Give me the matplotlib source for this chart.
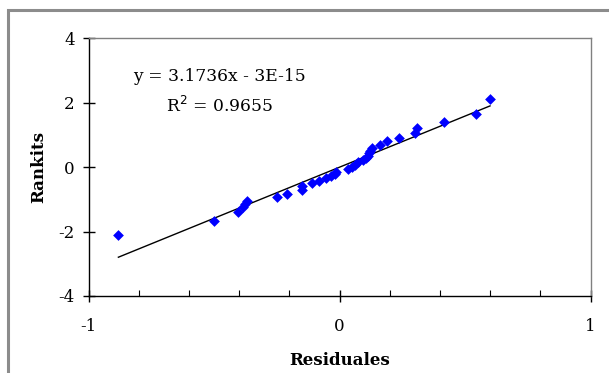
import numpy as np
import matplotlib.pyplot as plt
from matplotlib.patches import Rectangle
from matplotlib.ticker import MultipleLocator

# residuals vs rankits (normal probability plot)
residuales = [-0.881, -0.499, -0.403, -0.385, -0.375, -0.367, -0.248, -0.209,
              -0.151, -0.151, -0.111, -0.081, -0.053, -0.033, -0.020, -0.013,
              0.035, 0.050, 0.063, 0.073, 0.094, 0.105, 0.112, 0.117, 0.121,
              0.128, 0.162, 0.190, 0.237, 0.302, 0.310, 0.415, 0.544, 0.599]
rankits = [-2.12, -1.66, -1.38, -1.25, -1.15, -1.04, -0.92, -0.82,
           -0.70, -0.60, -0.50, -0.42, -0.35, -0.28, -0.22, -0.15,
           -0.07, 0.00, 0.07, 0.15, 0.22, 0.29, 0.36, 0.43, 0.50,
           0.60, 0.70, 0.82, 0.92, 1.05, 1.20, 1.39, 1.66, 2.12]

# trend line as printed on the chart
slope = 3.1736
intercept = -3e-15
eq_text = "y = 3.1736x - 3E-15"
r2_text = "R$^2$ = 0.9655"

plt.rcParams["font.family"] = "DejaVu Serif"
plt.rcParams["axes.unicode_minus"] = False

fig = plt.figure(figsize=(6.09, 3.73), dpi=100)
W, H = 609, 373

# grey outer frame of the chart object (cut off at right and bottom)
fig.patches.append(Rectangle((7.5 / W, -0.1), 1.5, 1.1 - 10.5 / H,
                             transform=fig.transFigure, fill=False,
                             edgecolor="#8c8c8c", linewidth=2.2))

ax = fig.add_axes([88.5 / W, 1 - 296 / H, (590.7 - 88.5) / W, (296 - 38.3) / H])

ax.scatter(residuales, rankits, marker="D", s=30, color="#0000ff", zorder=3, linewidths=0)

xs = np.array([min(residuales), max(residuales)])
ax.plot(xs, slope * xs + intercept, color="black", linewidth=1.0, zorder=2)

ax.set_xlim(-1, 1)
ax.set_ylim(-4, 4)
ax.xaxis.set_major_locator(MultipleLocator(1))
ax.xaxis.set_minor_locator(MultipleLocator(0.2))
ax.yaxis.set_major_locator(MultipleLocator(2))

ax.tick_params(axis="both", which="major", direction="inout", length=8, width=1,
               labelsize=12, color="black")
ax.tick_params(axis="x", which="minor", direction="in", length=4, width=0.8)
ax.tick_params(axis="x", which="major", pad=12)
ax.tick_params(axis="y", which="major", pad=6)

for s in ["top", "right"]:
    ax.spines[s].set_color("#808080")
    ax.spines[s].set_linewidth(1.0)
for s in ["left", "bottom"]:
    ax.spines[s].set_color("black")
    ax.spines[s].set_linewidth(1.0)

ax.set_xlabel("Residuales", fontsize=12, fontweight="bold", labelpad=12)
ax.set_ylabel("Rankits", fontsize=12, fontweight="bold", labelpad=8)

ax.text(-0.48, 2.8, eq_text, fontsize=12.3, ha="center", va="center")
ax.text(-0.48, 1.9, r2_text, fontsize=12.3, ha="center", va="center")

fig.savefig("out.png", dpi=100)
